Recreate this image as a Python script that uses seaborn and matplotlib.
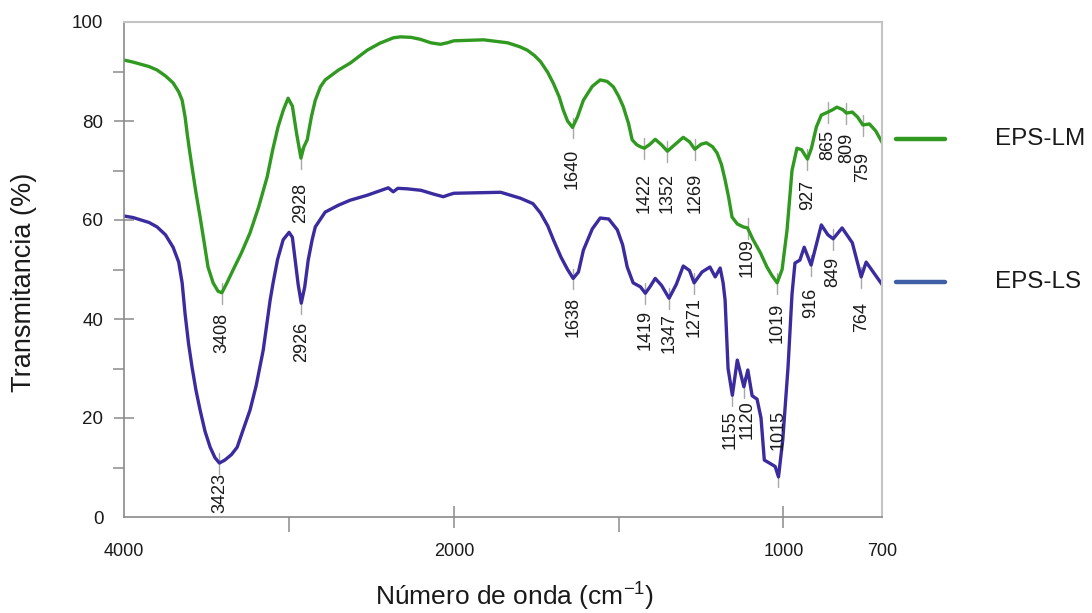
import numpy as np
import pandas as pd
import matplotlib
matplotlib.use("Agg")
import matplotlib.pyplot as plt
from matplotlib.lines import Line2D
from matplotlib.ticker import FixedLocator, FixedFormatter
from matplotlib.transforms import offset_copy
import seaborn as sns

# ---- FTIR spectra (wavenumber in cm-1, transmittance in %) ----
wn_lm = [4000, 3947, 3850, 3801, 3750, 3704, 3670, 3649, 3631, 3619, 3604, 3589, 3565,
         3540, 3515, 3492, 3461, 3431, 3408, 3377, 3340, 3290, 3237, 3185, 3133, 3100,
         3067, 3035, 3006, 2980, 2955, 2928, 2910, 2890, 2865, 2841, 2810, 2781, 2700,
         2629, 2526, 2450, 2368, 2325, 2260, 2203, 2140, 2082, 2040, 2000, 1910, 1837,
         1800, 1777, 1755, 1737, 1715, 1698, 1680, 1668, 1655, 1640, 1625, 1607, 1580,
         1556, 1535, 1516, 1500, 1486, 1470, 1459, 1445, 1434, 1422, 1405, 1389, 1370,
         1352, 1330, 1304, 1285, 1269, 1250, 1234, 1215, 1201, 1188, 1177, 1166, 1156,
         1140, 1122, 1109, 1092, 1070, 1050, 1035, 1019, 1004, 989, 974, 959, 945, 927,
         915, 900, 885, 865, 850, 838, 820, 809, 791, 775, 759, 739, 720, 700]
t_lm = [92.3, 91.9, 91.0, 90.3, 89.1, 87.7, 85.9, 84.2, 80.8, 77.6, 74.0, 70.7, 65.5,
        60.6, 55.4, 50.5, 47.3, 45.6, 45.3, 47.3, 49.9, 53.3, 57.4, 62.6, 68.7, 74.1,
        78.8, 82.2, 84.6, 83.0, 77.6, 72.5, 74.8, 76.2, 80.8, 84.2, 86.9, 88.3, 90.3,
        91.7, 94.3, 95.7, 96.8, 97.0, 96.9, 96.5, 95.8, 95.5, 95.8, 96.2, 96.4, 95.8,
        95.0, 94.3, 93.2, 92.0, 89.8, 87.6, 84.8, 82.2, 80.0, 78.7, 80.8, 84.2, 87.0,
        88.3, 88.0, 86.9, 85.0, 82.9, 79.5, 76.2, 75.2, 74.8, 74.5, 75.3, 76.3, 75.2,
        73.9, 75.2, 76.7, 75.8, 74.3, 75.3, 75.6, 74.8, 73.5, 71.2, 68.1, 64.5, 60.6,
        59.2, 58.6, 58.4, 56.0, 53.4, 50.5, 48.8, 47.3, 50.0, 58.0, 70.0, 74.5, 74.2, 72.3,
        74.5, 78.8, 81.2, 81.8, 82.3, 82.8, 82.3, 81.6, 81.8, 80.8, 79.2, 79.4, 78.0, 75.6]

wn_ls = [4000, 3947, 3850, 3801, 3750, 3704, 3670, 3649, 3631, 3610, 3589, 3565, 3540,
         3510, 3479, 3450, 3423, 3390, 3350, 3315, 3280, 3237, 3200, 3157, 3115, 3097,
         3070, 3036, 3000, 2980, 2963, 2945, 2926, 2905, 2884, 2860, 2841, 2781, 2700,
         2629, 2526, 2398, 2368, 2340, 2283, 2200, 2120, 2064, 2030, 2000, 1858, 1798,
         1760, 1737, 1715, 1698, 1675, 1655, 1638, 1622, 1607, 1580, 1556, 1530, 1504,
         1488, 1474, 1456, 1434, 1419, 1405, 1389, 1370, 1347, 1325, 1304, 1285, 1271,
         1247, 1223, 1207, 1192, 1183, 1177, 1168, 1155, 1140, 1120, 1108, 1095, 1080,
         1068, 1058, 1040, 1025, 1015, 1002, 986, 974, 965, 950, 937, 916, 885, 865, 849,
         822, 791, 764, 749, 700]
t_ls = [60.8, 60.5, 59.5, 58.6, 57.0, 54.5, 51.5, 47.3, 41.0, 35.0, 30.3, 25.6, 21.6,
        17.3, 14.1, 12.0, 10.9, 11.5, 12.6, 14.1, 17.5, 21.6, 26.5, 33.7, 43.8, 47.3,
        52.0, 56.0, 57.5, 56.5, 51.9, 47.0, 43.2, 46.5, 51.9, 56.0, 58.6, 61.6, 63.0,
        64.0, 65.0, 66.5, 65.7, 66.4, 66.3, 66.0, 65.2, 64.7, 65.1, 65.4, 65.6, 64.4,
        63.3, 61.4, 58.8, 56.0, 52.5, 50.0, 48.2, 49.5, 53.9, 58.2, 60.4, 60.2, 58.0,
        55.0, 50.5, 47.3, 46.5, 45.2, 46.5, 48.2, 46.8, 44.2, 47.0, 50.7, 49.8, 47.3,
        49.5, 50.5, 48.5, 50.3, 47.3, 43.8, 30.0, 24.6, 31.7, 26.3, 29.7, 24.5, 23.8,
        20.0, 11.5, 10.8, 10.2, 8.1, 15.6, 30.3, 45.0, 51.3, 51.9, 54.5, 50.9, 59.0, 57.0,
        56.2, 58.4, 55.4, 48.5, 51.5, 46.9]

series_names = ["EPS-LM", "EPS-LS"]

# labelled band positions (cm-1)
peaks_lm = [3408, 2928, 1640, 1422, 1352, 1269, 1109, 1019, 927, 865, 809, 759]
peaks_ls = [3423, 2926, 1638, 1419, 1347, 1271, 1155, 1120, 1015, 916, 849, 764]

# vertical gap (in % units) between the curve and each rotated label
gap_lm = [4.0, 5.0, 4.4, 5.0, 4.4, 4.8, 2.0, 4.1, 4.2, 3.6, 4.0, 5.5]
gap_ls = [2.0, 3.8, 3.8, 3.4, 3.0, 2.9, 3.0, 2.7, -5.4, 4.6, 3.7, 5.0]
# small sideways nudges (points) for crowded labels
nudge_ls = {1155: -1.5, 1120: 2.5}

green = "#2f9a1f"
blue = "#3a2b9e"
legend_blue = "#3f5ea6"

sns.set_style("white")
plt.rcParams["font.family"] = ["Liberation Sans", "DejaVu Sans"]
plt.rcParams["mathtext.fontset"] = "custom"
plt.rcParams["mathtext.rm"] = "Liberation Sans"

df = pd.concat([
    pd.DataFrame({"wn": wn_lm, "T": t_lm, "serie": series_names[0]}),
    pd.DataFrame({"wn": wn_ls, "T": t_ls, "serie": series_names[1]}),
])

fig = plt.figure(figsize=(10.92, 6.13), dpi=100)
ax = fig.add_axes([124.3 / 1092, 1 - 517 / 613, 758 / 1092, 495 / 613])

# split wavenumber axis: region above 2000 cm-1 compressed by a factor 2
def fwd(x):
    x = np.asarray(x, dtype=float)
    return np.where(x > 2000, 2000 + (x - 2000) / 2.0, x)

def inv(u):
    u = np.asarray(u, dtype=float)
    return np.where(u > 2000, 2000 + (u - 2000) * 2.0, u)

ax.set_xscale("function", functions=(fwd, inv))

sns.lineplot(data=df, x="wn", y="T", hue="serie", palette=[green, blue],
             estimator=None, sort=False, linewidth=2.4, legend=False, ax=ax)
for ln in ax.lines:
    ln.set_solid_joinstyle("round")
    ln.set_solid_capstyle("round")

ax.set_xlim(4000, 700)
ax.set_ylim(0, 100)

# band annotations
def annotate(wn, t, peaks, gaps, nudges=None):
    nudges = nudges or {}
    xs = np.asarray(wn[::-1], float)
    ys = np.asarray(t[::-1], float)
    for p, g in zip(peaks, gaps):
        y = float(np.interp(p, xs, ys))
        tr = offset_copy(ax.transData, fig=fig, x=nudges.get(p, 0.0), y=0, units="points")
        if g < 0:
            ax.plot([p, p], [y - 2.0, y + 0.5], color="#a8a8a8", lw=1.0, zorder=1)
            ax.text(p, y - g, str(p), rotation=90, ha="center", va="bottom",
                    fontsize=13, color="#1a1a1a", transform=tr)
        else:
            ax.plot([p, p], [y + 2.0, y - 2.2], color="#a8a8a8", lw=1.0, zorder=1)
            ax.text(p, y - g, str(p), rotation=90, ha="center", va="top",
                    fontsize=13, color="#1a1a1a", transform=tr)

annotate(wn_lm, t_lm, peaks_lm, gap_lm)
annotate(wn_ls, t_ls, peaks_ls, gap_ls, nudge_ls)

# axes decoration
ax.xaxis.set_major_locator(FixedLocator([4000, 2000, 1000, 700]))
ax.xaxis.set_major_formatter(FixedFormatter(["4000", "2000", "1000", "700"]))
ax.xaxis.set_minor_locator(FixedLocator([3000, 1500]))
ax.yaxis.set_major_locator(FixedLocator([0, 20, 40, 60, 80, 100]))
ax.yaxis.set_minor_locator(FixedLocator([10, 30, 50, 70, 90]))

tick_col = "#8c8c8c"
ax.tick_params(axis="x", which="major", direction="inout", length=16, width=1.1,
               color=tick_col, labelsize=13, pad=11, labelcolor="#1a1a1a")
ax.tick_params(axis="x", which="minor", direction="out", length=11, width=1.1,
               color=tick_col)
ax.tick_params(axis="y", which="major", direction="inout", length=15, width=1.1,
               color=tick_col, labelsize=13.5, pad=7.5, labelcolor="#1a1a1a")
ax.tick_params(axis="y", which="minor", direction="out", length=8, width=1.1,
               color=tick_col)
ax.tick_params(bottom=True, left=True, which="both")

fig.canvas.draw()
xt = ax.xaxis.get_major_ticks()
for t in (xt[0], xt[-1]):
    t.tick1line.set_visible(False)
yt = ax.yaxis.get_major_ticks()
for t in (yt[0], yt[-1]):
    t.tick1line.set_visible(False)

for side in ("left", "bottom"):
    ax.spines[side].set_color("#8a8a8a")
    ax.spines[side].set_linewidth(1.2)
for side in ("top", "right"):
    ax.spines[side].set_color("#c4c4c4")
    ax.spines[side].set_linewidth(1.5)

ax.set_xlabel("Número de onda (cm$^{\\mathregular{-1}}$)", fontsize=19, color="#1a1a1a",
              va="center")
ax.xaxis.set_label_coords(0.515, -0.158)
ax.set_ylabel("Transmitancia (%)", fontsize=19.5, color="#1a1a1a", va="center")
ax.yaxis.set_label_coords(-0.132, 0.473)

# legend placed to the right of the plot
for name, col, ypix in ((series_names[0], green, 139), (series_names[1], legend_blue, 282)):
    yf = 1 - ypix / 613
    fig.add_artist(Line2D([896 / 1092, 945 / 1092], [yf, yf], color=col, lw=3.2))
    fig.text(995 / 1092, yf, name, ha="left", va="center", fontsize=17.5, color="#1a1a1a")

fig.savefig("out.png", dpi=100)
